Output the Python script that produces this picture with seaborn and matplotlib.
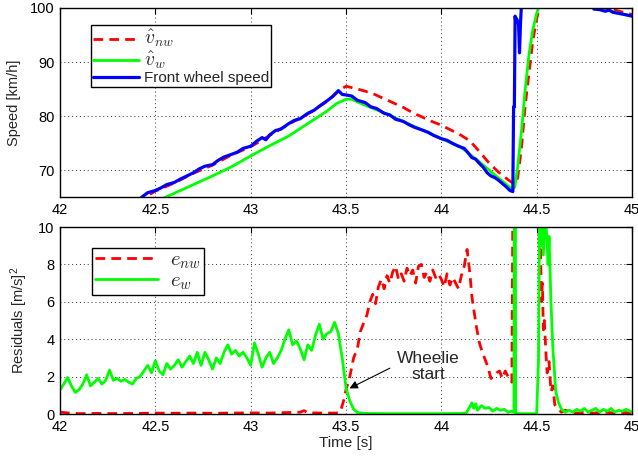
import numpy as np
import pandas as pd
import matplotlib
matplotlib.use("Agg")
import matplotlib.pyplot as plt
from matplotlib.ticker import FormatStrFormatter
from matplotlib.lines import Line2D
import seaborn as sns

# ---------------- data: top panel (speed, km/h) ----------------
t_front = [42.40, 42.43, 42.46, 42.50, 42.53, 42.56, 42.60, 42.63, 42.66, 42.70,
           42.73, 42.76, 42.80, 42.83, 42.86, 42.90, 42.93, 42.96, 43.00, 43.03,
           43.06, 43.08, 43.10, 43.13, 43.16, 43.20, 43.23, 43.26, 43.30, 43.33,
           43.36, 43.40, 43.43, 43.46, 43.48, 43.50, 43.53, 43.56, 43.60, 43.63,
           43.66, 43.70, 43.73, 43.76, 43.80, 43.83, 43.86, 43.90, 43.93, 43.96,
           44.00, 44.03, 44.06, 44.09, 44.12, 44.14, 44.16, 44.18, 44.20, 44.22,
           44.24, 44.26, 44.28, 44.30, 44.32, 44.34, 44.36, 44.375, 44.379, 44.383,
           44.387, 44.390, 44.395, 44.400, 44.405, 44.410, 44.415, 44.420, 44.43,
           44.79, 44.80, 44.83, 44.86, 44.88, 44.90, 44.93, 44.96, 45.00]
v_front = [64.0, 65.0, 65.8, 66.2, 66.7, 67.3, 67.7, 68.3, 68.8, 69.5,
           70.2, 70.7, 71.0, 71.8, 72.4, 72.9, 73.3, 74.0, 74.4, 75.3,
           76.0, 75.6, 76.5, 77.3, 77.6, 78.6, 79.2, 79.5, 80.5, 81.0,
           81.8, 82.8, 83.6, 84.7, 84.0, 83.9, 83.7, 82.9, 82.5, 81.7,
           81.4, 80.5, 80.2, 79.4, 79.0, 78.4, 77.9, 77.4, 77.0, 76.4,
           75.8, 75.5, 74.9, 74.4, 74.0, 73.2, 72.3, 72.0, 71.2, 70.5,
           69.5, 68.9, 68.6, 68.1, 67.5, 66.9, 66.2, 66.0, 81.7, 81.7,
           98.5, 97.5, 98.0, 97.5, 97.0, 91.7, 97.0, 100.5, 110.0,
           101.0, 99.8, 99.7, 99.4, 99.6, 99.2, 99.0, 98.8, 98.5]

t_vw = [42.50, 42.556, 42.60, 42.70, 42.80, 42.90, 43.00, 43.10, 43.20, 43.30,
        43.40, 43.45, 43.50, 43.53, 43.56, 43.60, 43.70, 43.80, 43.90, 44.00,
        44.10, 44.20, 44.30, 44.37, 44.385, 44.40, 44.42, 44.44, 44.46, 44.48,
        44.50, 44.52, 44.80, 44.90, 45.00]
v_vw = [64.0, 65.0, 65.7, 67.3, 68.9, 70.6, 72.6, 74.5, 76.3, 78.6,
        80.9, 82.3, 83.1, 83.1, 82.6, 82.0, 80.6, 79.0, 77.4, 75.8,
        74.3, 71.5, 68.5, 66.5, 66.8, 70.5, 77.0, 85.0, 91.5, 96.0,
        99.0, 101.0, 101.0, 99.3, 98.5]

t_vnw = [42.40, 42.50, 42.60, 42.70, 42.80, 42.90, 43.00, 43.10, 43.20, 43.30,
         43.40, 43.47, 43.50, 43.55, 43.60, 43.65, 43.70, 43.75, 43.80, 43.85,
         43.90, 43.95, 44.00, 44.05, 44.10, 44.15, 44.20, 44.25, 44.30, 44.35,
         44.37, 44.385, 44.40, 44.42, 44.44, 44.46, 44.48, 44.50, 44.52, 44.80,
         44.90, 45.00]
v_vnw = [64.0, 66.1, 67.6, 69.4, 70.9, 72.8, 74.3, 76.4, 78.5, 80.4,
         82.7, 84.9, 85.5, 85.1, 84.6, 84.0, 83.2, 82.4, 81.6, 80.6,
         79.8, 79.0, 78.3, 77.4, 76.5, 75.4, 73.4, 71.3, 69.6, 68.2,
         67.7, 67.5, 68.5, 74.0, 82.0, 88.0, 94.0, 98.0, 101.0, 101.0,
         99.7, 98.8]

# ---------------- data: bottom panel (residuals) ----------------
t_ew = [42.00, 42.02, 42.04, 42.06, 42.08, 42.10, 42.12, 42.14, 42.16, 42.18,
        42.20, 42.22, 42.24, 42.26, 42.28, 42.30, 42.32, 42.34, 42.36, 42.38,
        42.40, 42.42, 42.44, 42.46, 42.48, 42.50, 42.52, 42.54, 42.56, 42.58,
        42.60, 42.62, 42.64, 42.66, 42.68, 42.70, 42.72, 42.74, 42.76, 42.78,
        42.80, 42.82, 42.84, 42.86, 42.88, 42.90, 42.92, 42.94, 42.96, 42.98,
        43.00, 43.02, 43.04, 43.06, 43.08, 43.10, 43.12, 43.14, 43.16, 43.18,
        43.20, 43.22, 43.24, 43.26, 43.28, 43.30, 43.32, 43.34, 43.36, 43.38,
        43.40, 43.42, 43.44, 43.46, 43.48, 43.50, 43.52, 43.54, 43.56, 43.60,
        43.70, 43.80, 43.90, 44.00, 44.10, 44.13, 44.15, 44.16, 44.17, 44.18,
        44.19, 44.21, 44.23, 44.25, 44.27, 44.29, 44.31, 44.33, 44.35, 44.37,
        44.381, 44.383, 44.388, 44.390, 44.40, 44.50, 44.510, 44.515, 44.525, 44.530,
        44.535, 44.545, 44.550, 44.560, 44.565, 44.575, 44.585, 44.600, 44.615, 44.630,
        44.650, 44.67, 44.69, 44.71, 44.73, 44.75, 44.77, 44.79, 44.81, 44.83,
        44.85, 44.87, 44.89, 44.91, 44.93, 44.95, 44.97, 45.00]
e_w = [1.30, 1.60, 1.95, 1.50, 1.15, 1.30, 1.60, 2.10, 1.50, 1.70,
       1.90, 1.60, 1.80, 2.35, 1.80, 1.90, 1.75, 1.85, 1.70, 1.60,
       1.90, 2.00, 2.30, 2.60, 2.20, 2.85, 2.30, 2.10, 2.70, 2.40,
       2.60, 2.90, 2.50, 2.80, 3.10, 2.70, 3.30, 2.60, 3.30, 2.90,
       2.40, 3.00, 2.70, 3.30, 3.70, 3.20, 3.40, 3.10, 3.30, 3.00,
       2.60, 3.80, 3.20, 2.50, 3.00, 3.30, 2.70, 3.00, 3.40, 4.00,
       4.50, 3.70, 3.90, 3.50, 2.90, 3.70, 3.40, 4.20, 4.80, 4.00,
       4.30, 4.40, 4.90, 4.30, 3.00, 1.40, 0.70, 0.25, 0.08, 0.03,
       0.02, 0.02, 0.02, 0.02, 0.03, 0.05, 0.40, 0.60, 0.30, 0.55,
       0.20, 0.45, 0.30, 0.35, 0.15, 0.30, 0.20, 0.25, 0.10, 0.15,
       0.10, 14.0, 14.0, 0.05, 0.02, 0.02, 3.00, 11.0, 9.00, 11.0,
       8.50, 11.0, 10.0, 8.00, 9.50, 6.00, 3.50, 1.20, 0.60, 0.25,
       0.10, 0.20, 0.10, 0.25, 0.15, 0.30, 0.10, 0.20, 0.30, 0.10,
       0.25, 0.15, 0.30, 0.10, 0.20, 0.15, 0.25, 0.10]

t_enw = [42.00, 42.05, 42.10, 42.20, 42.30, 42.40, 42.50, 42.60, 42.70, 42.80,
         42.90, 43.00, 43.10, 43.20, 43.26, 43.28, 43.30, 43.40, 43.45, 43.47,
         43.49, 43.50, 43.52, 43.54, 43.56, 43.575, 43.59, 43.61, 43.625, 43.64,
         43.655, 43.67, 43.685, 43.70, 43.715, 43.73, 43.745, 43.76, 43.775, 43.79,
         43.805, 43.82, 43.835, 43.85, 43.865, 43.88, 43.895, 43.91, 43.925, 43.94,
         43.955, 43.97, 43.985, 44.00, 44.015, 44.03, 44.045, 44.06, 44.075, 44.09,
         44.105, 44.12, 44.135, 44.15, 44.16, 44.17, 44.185, 44.20, 44.215, 44.23,
         44.245, 44.26, 44.275, 44.29, 44.305, 44.32, 44.335, 44.35, 44.37, 44.385,
         44.50, 44.510, 44.515, 44.520, 44.525, 44.530, 44.535, 44.540, 44.550, 44.555,
         44.565, 44.575, 44.585, 44.595, 44.61, 44.63, 44.65, 44.70, 44.75, 44.80,
         44.85, 44.90, 44.95, 45.00]
e_nw = [0.10, 0.05, 0.02, 0.03, 0.02, 0.03, 0.05, 0.04, 0.05, 0.04,
        0.05, 0.06, 0.05, 0.08, 0.10, 0.18, 0.06, 0.05, 0.05, 0.10,
        0.80, 1.30, 2.00, 3.00, 3.50, 4.40, 4.80, 5.30, 6.00, 6.40,
        5.90, 6.80, 7.20, 6.70, 7.40, 7.00, 7.60, 7.90, 7.20, 7.50,
        7.10, 7.80, 7.40, 7.70, 7.00, 7.90, 8.00, 7.30, 7.60, 7.10,
        7.70, 7.30, 7.50, 7.20, 6.80, 7.50, 6.90, 7.30, 7.00, 6.70,
        7.40, 7.90, 8.80, 7.50, 6.30, 5.60, 4.60, 3.80, 3.30, 2.90,
        2.50, 1.90, 2.00, 2.20, 2.30, 1.90, 2.30, 2.00, 1.70, 30.0,
        30.0, 10.5, 8.50, 9.00, 6.00, 7.00, 4.50, 5.00, 3.00, 2.20,
        2.80, 1.20, 1.50, 0.50, 0.30, 0.10, 0.20, 0.05, 0.08, 0.05,
        0.10, 0.06, 0.08, 0.05]

xticks = [42, 42.5, 43, 43.5, 44, 44.5, 45]
speed_ticks = [70, 80, 90, 100]
res_ticks = [0, 2, 4, 6, 8, 10]

# ---------------- style ----------------
sns.set_theme(style="white")
plt.rcParams["font.family"] = ["Liberation Sans", "DejaVu Sans"]
plt.rcParams["mathtext.fontset"] = "cm"
plt.rcParams["axes.edgecolor"] = "black"
plt.rcParams["axes.linewidth"] = 1.0

RED = "#ff0000"
GREEN = "#00ff00"
BLUE = "#0000ff"
DASH = (0, (3.5, 2.2))

fig = plt.figure(figsize=(6.38, 4.59), dpi=100)
ax1 = fig.add_axes([60 / 638, 1 - 197 / 459, 572 / 638, 189 / 459])
ax2 = fig.add_axes([60 / 638, 1 - 414 / 459, 572 / 638, 187 / 459])

# top panel
sns.lineplot(x=t_vnw, y=v_vnw, ax=ax1, color=RED, lw=2.0, linestyle=DASH,
             sort=False, estimator=None)
sns.lineplot(x=t_vw, y=v_vw, ax=ax1, color=GREEN, lw=2.0, sort=False, estimator=None)
sns.lineplot(x=t_front, y=v_front, ax=ax1, color=BLUE, lw=2.3, sort=False, estimator=None)
ax1.set_xlim(42, 45)
ax1.set_ylim(65, 100)
ax1.set_yticks(speed_ticks)
ax1.set_ylabel("Speed [km/h]", fontsize=10.5, labelpad=6)

# bottom panel
sns.lineplot(x=t_enw, y=e_nw, ax=ax2, color=RED, lw=2.0, linestyle=DASH,
             sort=False, estimator=None)
sns.lineplot(x=t_ew, y=e_w, ax=ax2, color=GREEN, lw=2.0, sort=False, estimator=None)
ax2.set_xlim(42, 45)
ax2.set_ylim(0, 10)
ax2.set_yticks(res_ticks)
ax2.set_ylabel(r"Residuals [m/s]$\mathregular{^2}$", fontsize=10.5, labelpad=6)
ax2.set_xlabel("Time [s]", fontsize=11, labelpad=2)

for ax in (ax1, ax2):
    ax.set_xticks(xticks)
    ax.xaxis.set_major_formatter(FormatStrFormatter("%g"))
    ax.grid(True, linestyle=(0, (1, 3)), color="#333333", lw=0.7)
    ax.tick_params(direction="in", top=True, right=True, length=4, width=0.8,
                   labelsize=10.5, colors="black", pad=4)
    for s in ax.spines.values():
        s.set_visible(True)
        s.set_color("black")
    if ax is ax1:
        ax.set_xlabel("")

# legends
h1 = [Line2D([], [], color=RED, lw=2.0, linestyle=DASH),
      Line2D([], [], color=GREEN, lw=2.0),
      Line2D([], [], color=BLUE, lw=2.3)]
leg1 = ax1.legend(h1, [r"$\hat{v}_{nw}$", r"$\hat{v}_{w}$", "Front wheel speed"],
                  loc="upper left", bbox_to_anchor=(0.054, 0.91), fontsize=11,
                  frameon=True, fancybox=False, framealpha=1, edgecolor="black",
                  borderpad=0.15, labelspacing=0.0, handlelength=3.0, handletextpad=0.3,
                  borderaxespad=0)
leg1.get_frame().set_linewidth(1.0)
for txt in leg1.get_texts()[:2]:
    txt.set_fontsize(14)

h2 = [Line2D([], [], color=RED, lw=2.0, linestyle=DASH),
      Line2D([], [], color=GREEN, lw=2.0)]
leg2 = ax2.legend(h2, [r"$e_{nw}$", r"$e_{w}$"],
                  loc="upper left", bbox_to_anchor=(0.056, 0.89), fontsize=15,
                  frameon=True, fancybox=False, framealpha=1, edgecolor="black",
                  borderpad=0.15, labelspacing=0.0, handlelength=3.0, handletextpad=0.6,
                  borderaxespad=0)
leg2.get_frame().set_linewidth(1.0)

# annotation
ax2.text(43.93, 2.55, "Wheelie\nstart", ha="center", va="center",
         fontsize=12.5, linespacing=1.05)
ax2.annotate("", xy=(43.518, 1.37), xytext=(43.73, 2.45),
             arrowprops=dict(arrowstyle="-|>", color="black", lw=0.8,
                             mutation_scale=12, shrinkA=0, shrinkB=0))

fig.savefig("out.png", dpi=100)
